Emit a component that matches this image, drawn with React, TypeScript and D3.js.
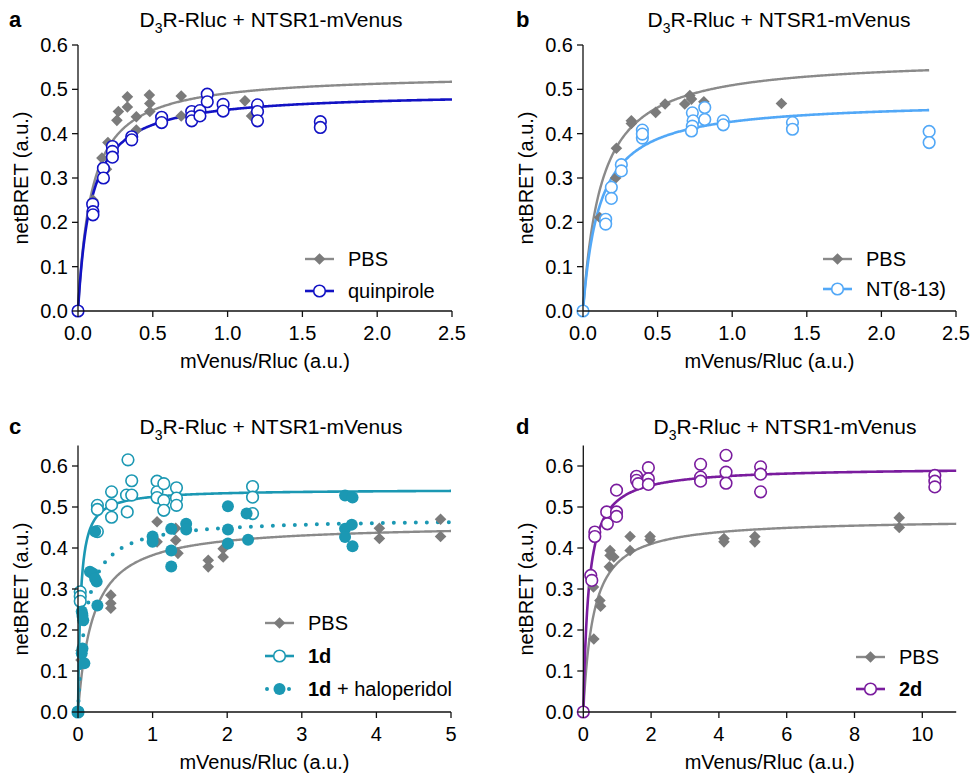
import React from 'react';
import * as d3 from 'd3';

type Pt = [number, number];

// ---------- data ----------
const aPBS: Pt[] = [
  [0, 0], [0.1, 0.25], [0.16, 0.345], [0.19, 0.32], [0.2, 0.38], [0.26, 0.43], [0.27, 0.45], [0.33, 0.483], [0.33, 0.46],
  [0.39, 0.438], [0.39, 0.408], [0.477, 0.487], [0.48, 0.468], [0.48, 0.45], [0.69, 0.485], [0.69, 0.44],
  [1.116, 0.474], [1.16, 0.44],
];
const aQuin: Pt[] = [
  [0, 0], [0.098, 0.241], [0.1, 0.224], [0.1, 0.217], [0.17, 0.322], [0.17, 0.3], [0.23, 0.371], [0.23, 0.36],
  [0.23, 0.347], [0.359, 0.393], [0.359, 0.386], [0.559, 0.437], [0.559, 0.425], [0.76, 0.45], [0.76, 0.438],
  [0.76, 0.429], [0.815, 0.452], [0.815, 0.44], [0.864, 0.489], [0.864, 0.472], [0.97, 0.466], [0.97, 0.451],
  [1.2, 0.465], [1.2, 0.45], [1.2, 0.429], [1.62, 0.427], [1.62, 0.414],
];
const bPBS: Pt[] = [
  [0, 0], [0.112, 0.211], [0.219, 0.3], [0.224, 0.367], [0.324, 0.429], [0.324, 0.423], [0.487, 0.448],
  [0.55, 0.467], [0.682, 0.467], [0.716, 0.486], [0.727, 0.478], [0.81, 0.472], [1.33, 0.468],
];
const bNT: Pt[] = [
  [0, 0], [0.152, 0.207], [0.152, 0.196], [0.19, 0.279], [0.19, 0.254], [0.257, 0.33], [0.257, 0.316],
  [0.398, 0.408], [0.398, 0.39], [0.398, 0.399], [0.733, 0.447], [0.738, 0.429], [0.733, 0.417], [0.727, 0.406],
  [0.816, 0.459], [0.816, 0.432], [0.94, 0.429], [0.94, 0.42], [1.404, 0.425], [1.404, 0.41], [2.32, 0.405],
  [2.32, 0.38],
];
const cPBS: Pt[] = [
  [0, 0], [0.04, 0.15], [0.04, 0.127], [0.44, 0.285], [0.44, 0.265], [0.44, 0.253], [1.06, 0.464], [1.06, 0.415],
  [1.31, 0.419], [1.31, 0.448], [1.34, 0.387], [1.746, 0.37], [1.746, 0.354], [1.946, 0.398], [1.946, 0.378],
  [4.04, 0.448], [4.04, 0.423], [4.86, 0.47], [4.86, 0.428],
];
const c1d: Pt[] = [
  [0, 0], [0.03, 0.293], [0.03, 0.282], [0.03, 0.27], [0.26, 0.504], [0.26, 0.494], [0.26, 0.44], [0.45, 0.537],
  [0.45, 0.505], [0.45, 0.475], [0.67, 0.615], [0.72, 0.564], [0.65, 0.529], [0.72, 0.529], [0.66, 0.488],
  [1.06, 0.563], [1.06, 0.537], [1.06, 0.523], [1.15, 0.557], [1.15, 0.516], [1.15, 0.492], [1.32, 0.547],
  [1.32, 0.522], [1.32, 0.504], [2.34, 0.55], [2.34, 0.524], [2.34, 0.484],
];
const c1dHalo: Pt[] = [
  [0, 0], [0.05, 0.245], [0.07, 0.224], [0.06, 0.235], [0.05, 0.143], [0.085, 0.119], [0.06, 0.155],
  [0.16, 0.342], [0.2, 0.338], [0.25, 0.318], [0.23, 0.325], [0.26, 0.26], [0.23, 0.44], [1.0, 0.428],
  [1.0, 0.415], [1.25, 0.447], [1.25, 0.394], [1.25, 0.355], [1.45, 0.459], [1.45, 0.445], [2.01, 0.502],
  [2.01, 0.445], [2.01, 0.411], [2.28, 0.42], [2.26, 0.484], [3.58, 0.528], [3.68, 0.523], [3.58, 0.447],
  [3.58, 0.427], [3.67, 0.457], [3.68, 0.404],
];
const dPBS: Pt[] = [
  [0, 0], [0.3, 0.305], [0.31, 0.178], [0.49, 0.272], [0.51, 0.258], [0.79, 0.394], [0.79, 0.382], [0.9, 0.378],
  [0.77, 0.354], [1.38, 0.428], [1.38, 0.394], [1.97, 0.428], [1.97, 0.42], [4.15, 0.423], [4.15, 0.415],
  [5.06, 0.428], [5.06, 0.415], [9.32, 0.474], [9.32, 0.45],
];
const d2d: Pt[] = [
  [0, 0], [0.22, 0.333], [0.25, 0.321], [0.34, 0.439], [0.34, 0.428], [0.69, 0.488], [0.71, 0.459], [0.98, 0.541],
  [0.98, 0.488], [0.98, 0.477], [1.57, 0.575], [1.57, 0.565], [1.62, 0.557], [1.92, 0.596], [1.92, 0.569],
  [1.92, 0.555], [3.46, 0.604], [3.46, 0.573], [3.46, 0.563], [4.21, 0.626], [4.21, 0.585], [4.21, 0.558],
  [5.23, 0.598], [5.23, 0.58], [5.23, 0.537], [10.37, 0.577], [10.37, 0.563], [10.37, 0.549],
];

// one-site saturation fit parameters [Bmax, K]
const fitAPBS = [0.536, 0.0915];
const fitAQuin = [0.494, 0.088];
const fitBPBS = [0.572, 0.123];
const fitBNT = [0.475, 0.112];
const fitCPBS = [0.459, 0.2];
const fitC1d = [0.543, 0.035];
const fitCHalo = [0.473, 0.107];
const fitDPBS = [0.4715, 0.3];
const fitD2d = [0.597, 0.16];

// ticks
const xTicksAB = [0, 0.5, 1, 1.5, 2, 2.5];
const xTicksC = [0, 1, 2, 3, 4, 5];
const xTicksD = [0, 2, 4, 6, 8, 10];
const yTicks = [0, 0.1, 0.2, 0.3, 0.4, 0.5, 0.6];

// ---------- styles ----------
const GRAY_LINE = '#8a8a8a';
const GRAY_PT = '#7b7b7b';
const BLUE = '#1212c4';
const LIGHT_BLUE = '#52a8f7';
const TEAL = '#1b98b3';
const PURPLE = '#7a1c9e';
const FONT = '"Liberation Sans", Arial, sans-serif';
const FS = 20;
const DOTS = '0 11';

type Marker = 'diamond' | 'open' | 'filled';
interface Series {
  data: Pt[];
  fit: number[];
  color: string;
  ptColor: string;
  marker: Marker;
  curveEnd: number;
  dotted?: boolean;
  lw: number;
}
interface LegendItem {
  label: React.ReactNode;
  color: string;
  ptColor: string;
  marker: Marker;
  dotted?: boolean;
  lw: number;
}
interface PanelCfg {
  letter: string;
  x0: number; x1: number; yBottom: number; yTopPx: number;
  xMax: number; yMax: number;
  xTicks: number[]; xFmt: (v: number) => string;
  series: Series[];
  legend: LegendItem[];
  legX: number; legY: number; legDy: number;
  titleX: number; titleY: number;
  letterX: number;
  yLabelX: number;
}

function MarkerShape({ kind, cx, cy, color }: { kind: Marker; cx: number; cy: number; color: string }) {
  if (kind === 'diamond') {
    const s = 5.8;
    return <path d={`M${cx},${cy - s}L${cx + s},${cy}L${cx},${cy + s}L${cx - s},${cy}Z`} fill={color} />;
  }
  if (kind === 'open') return <circle cx={cx} cy={cy} r={5.8} fill="#fff" stroke={color} strokeWidth={1.6} />;
  return <circle cx={cx} cy={cy} r={6} fill={color} />;
}

const fmt1 = d3.format('.1f');
const fmt0 = d3.format('d');

function Panel({ cfg }: { cfg: PanelCfg }) {
  const x = d3.scaleLinear().domain([0, cfg.xMax]).range([cfg.x0, cfg.x1]);
  const y = d3.scaleLinear().domain([0, cfg.yMax]).range([cfg.yBottom, cfg.yTopPx]);
  const curvePath = (s: Series) => {
    const [bmax, k] = s.fit;
    const xs = d3.range(0, 401).map((i) => (s.curveEnd * i) / 400);
    const gen = d3.line<number>().x((v) => x(v)).y((v) => y((bmax * v) / (k + v)));
    return gen(xs) || '';
  };
  const yLabelCenter = (cfg.yBottom + y(0.6)) / 2;
  return (
    <g>
      <text x={cfg.letterX} y={cfg.titleY} fontFamily={FONT} fontWeight="bold" fontSize={22}>{cfg.letter}</text>
      <text x={cfg.titleX} y={cfg.titleY} fontFamily={FONT} fontSize={21} textAnchor="middle">
        D<tspan fontSize={14} dy={6}>3</tspan><tspan dy={-6}>R-Rluc + NTSR1-mVenus</tspan>
      </text>
      {/* curves */}
      {cfg.series.map((s, i) => (
        <path key={'c' + i} d={curvePath(s)} fill="none" stroke={s.color} strokeWidth={s.dotted ? 4 : s.lw}
          strokeDasharray={s.dotted ? DOTS : undefined} strokeLinecap={s.dotted ? 'round' : 'butt'} />
      ))}
      {/* points */}
      {cfg.series.map((s, i) => (
        <g key={'p' + i}>
          {s.data.map((d, j) => (
            <MarkerShape key={j} kind={s.marker} cx={x(d[0])} cy={y(d[1])} color={s.ptColor} />
          ))}
        </g>
      ))}
      {/* axes */}
      <line x1={cfg.x0} x2={cfg.x0} y1={cfg.yBottom} y2={cfg.yTopPx} stroke="#111" strokeWidth={1.3} />
      <line x1={cfg.x0} x2={cfg.x1} y1={cfg.yBottom} y2={cfg.yBottom} stroke="#111" strokeWidth={1.3} />
      {yTicks.map((t) => (
        <g key={'yt' + t}>
          <line x1={cfg.x0 - 6} x2={cfg.x0} y1={y(t)} y2={y(t)} stroke="#111" strokeWidth={1.3} />
          <text x={cfg.x0 - 10} y={y(t)} dy="0.35em" textAnchor="end" fontFamily={FONT} fontSize={FS}>{fmt1(t)}</text>
        </g>
      ))}
      {cfg.xTicks.map((t) => (
        <g key={'xt' + t}>
          <line x1={x(t)} x2={x(t)} y1={cfg.yBottom} y2={cfg.yBottom + 6} stroke="#111" strokeWidth={1.3} />
          <text x={x(t)} y={cfg.yBottom + 29} textAnchor="middle" fontFamily={FONT} fontSize={FS}>{cfg.xFmt(t)}</text>
        </g>
      ))}
      <text x={(cfg.x0 + cfg.x1) / 2} y={cfg.yBottom + 57} textAnchor="middle" fontFamily={FONT} fontSize={FS}>mVenus/Rluc (a.u.)</text>
      <text transform={`translate(${cfg.yLabelX},${yLabelCenter}) rotate(-90)`} textAnchor="middle" fontFamily={FONT} fontSize={FS}>netBRET (a.u.)</text>
      {/* legend */}
      {cfg.legend.map((l, i) => {
        const ly = cfg.legY + i * cfg.legDy;
        return (
          <g key={'lg' + i}>
            <line x1={l.dotted ? cfg.legX + 2 : cfg.legX} x2={cfg.legX + 29} y1={ly} y2={ly} stroke={l.color} strokeWidth={l.dotted ? 4 : l.lw}
              strokeDasharray={l.dotted ? DOTS : undefined} strokeLinecap={l.dotted ? 'round' : 'butt'} />
            <MarkerShape kind={l.marker} cx={cfg.legX + 14.5} cy={ly} color={l.ptColor} />
            <text x={cfg.legX + 43} y={ly} dy="0.35em" fontFamily={FONT} fontSize={FS}>{l.label}</text>
          </g>
        );
      })}
    </g>
  );
}

const pbsLegend: LegendItem = { label: 'PBS', color: GRAY_LINE, ptColor: GRAY_PT, marker: 'diamond', lw: 2.4 };

const panels: PanelCfg[] = [
  {
    letter: 'a', x0: 78, x1: 452, yBottom: 311, yTopPx: 45, xMax: 2.5, yMax: 0.6,
    xTicks: xTicksAB, xFmt: fmt1,
    series: [
      { data: aPBS, fit: fitAPBS, color: GRAY_LINE, ptColor: GRAY_PT, marker: 'diamond', curveEnd: 2.5, lw: 2.4 },
      { data: aQuin, fit: fitAQuin, color: BLUE, ptColor: BLUE, marker: 'open', curveEnd: 2.5, lw: 2.6 },
    ],
    legend: [pbsLegend, { label: 'quinpirole', color: BLUE, ptColor: BLUE, marker: 'open', lw: 2.6 }],
    legX: 305, legY: 259, legDy: 32, titleX: 271, titleY: 27, letterX: 9, yLabelX: 28,
  },
  {
    letter: 'b', x0: 583, x1: 956, yBottom: 311, yTopPx: 45, xMax: 2.5, yMax: 0.6,
    xTicks: xTicksAB, xFmt: fmt1,
    series: [
      { data: bPBS, fit: fitBPBS, color: GRAY_LINE, ptColor: GRAY_PT, marker: 'diamond', curveEnd: 2.32, lw: 2.4 },
      { data: bNT, fit: fitBNT, color: LIGHT_BLUE, ptColor: LIGHT_BLUE, marker: 'open', curveEnd: 2.32, lw: 2.6 },
    ],
    legend: [pbsLegend, { label: 'NT(8-13)', color: LIGHT_BLUE, ptColor: LIGHT_BLUE, marker: 'open', lw: 2.6 }],
    legX: 823, legY: 259, legDy: 30, titleX: 779, titleY: 27, letterX: 516, yLabelX: 533,
  },
  {
    letter: 'c', x0: 78, x1: 451, yBottom: 712, yTopPx: 712 - 0.65 * 410, xMax: 5, yMax: 0.65,
    xTicks: xTicksC, xFmt: fmt0,
    series: [
      { data: cPBS, fit: fitCPBS, color: GRAY_LINE, ptColor: GRAY_PT, marker: 'diamond', curveEnd: 5, lw: 2.4 },
      { data: c1d, fit: fitC1d, color: TEAL, ptColor: TEAL, marker: 'open', curveEnd: 5, lw: 2.6 },
      { data: c1dHalo, fit: fitCHalo, color: TEAL, ptColor: TEAL, marker: 'filled', curveEnd: 5, lw: 2.6, dotted: true },
    ],
    legend: [
      pbsLegend,
      { label: <tspan fontWeight="bold">1d</tspan>, color: TEAL, ptColor: TEAL, marker: 'open', lw: 2.6 },
      { label: <><tspan fontWeight="bold">1d</tspan><tspan> + haloperidol</tspan></>, color: TEAL, ptColor: TEAL, marker: 'filled', lw: 2.6, dotted: true },
    ],
    legX: 265, legY: 623, legDy: 33, titleX: 271, titleY: 434, letterX: 9, yLabelX: 28,
  },
  {
    letter: 'd', x0: 583.3, x1: 583.3 + 11 * 33.9, yBottom: 712, yTopPx: 712 - 0.65 * 410, xMax: 11, yMax: 0.65,
    xTicks: xTicksD, xFmt: fmt0,
    series: [
      { data: dPBS, fit: fitDPBS, color: GRAY_LINE, ptColor: GRAY_PT, marker: 'diamond', curveEnd: 11, lw: 2.4 },
      { data: d2d, fit: fitD2d, color: PURPLE, ptColor: PURPLE, marker: 'open', curveEnd: 11, lw: 2.6 },
    ],
    legend: [pbsLegend, { label: <tspan fontWeight="bold">2d</tspan>, color: PURPLE, ptColor: PURPLE, marker: 'open', lw: 2.6 }],
    legX: 856, legY: 657, legDy: 32, titleX: 785, titleY: 434, letterX: 516, yLabelX: 533,
  },
];

export default function App() {
  return (
    <svg width={971} height={773} style={{ position: 'absolute', left: 0, top: 0, background: '#fff' }}>
      <rect x={0} y={0} width={971} height={773} fill="#fff" />
      {panels.map((p) => <Panel key={p.letter} cfg={p} />)}
    </svg>
  );
}
